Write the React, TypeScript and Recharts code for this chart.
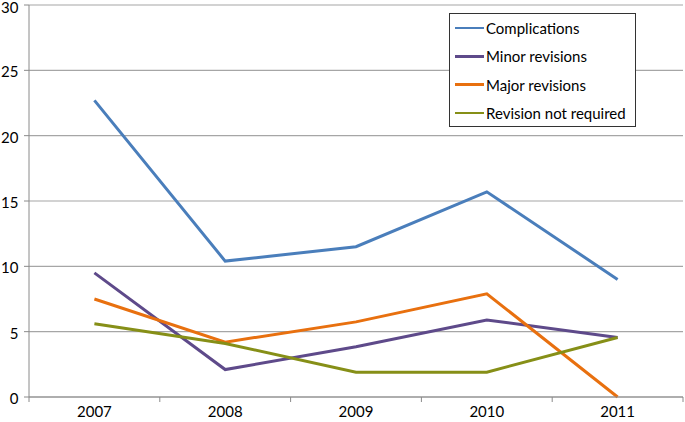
import React from 'react';
import { LineChart, Line, XAxis, YAxis, CartesianGrid } from 'recharts';

const years = ['2007', '2008', '2009', '2010', '2011'];
const complications = [22.7, 10.4, 11.5, 15.7, 9.0];
const minorRevisions = [9.5, 2.1, 3.85, 5.9, 4.55];
const majorRevisions = [7.5, 4.2, 5.75, 7.9, 0];
const revisionNotRequired = [5.6, 4.1, 1.9, 1.9, 4.55];
const yTicks = [0, 5, 10, 15, 20, 25, 30];
const xBoundaries = [0, 1, 2, 3, 4, 5];

const series = [
  { key: 'complications', name: 'Complications', color: '#4a7ebb' },
  { key: 'minor', name: 'Minor revisions', color: '#5e4a8a' },
  { key: 'major', name: 'Major revisions', color: '#e8700f' },
  { key: 'notRequired', name: 'Revision not required', color: '#868f17' },
];

const data = years.map((y, i) => ({
  pos: i + 0.5,
  year: y,
  complications: complications[i],
  minor: minorRevisions[i],
  major: majorRevisions[i],
  notRequired: revisionNotRequired[i],
}));

const FONT = 'Lato, "Open Sans", sans-serif';

const XTick = (props: any) => {
  const { x, y, payload, width } = props;
  const idx = payload.value;
  if (idx >= years.length) return null;
  const half = (typeof width === 'number' && width > 0 ? width : 654) / years.length / 2;
  return (
    <text x={x + half} y={y} dy="0.8em" textAnchor="middle" fill="#000" fontSize={15} fontFamily={FONT}>
      {years[idx]}
    </text>
  );
};

const YTick = (props: any) => {
  const { x, y, payload, index } = props;
  const isTop = index === yTicks.length - 1;
  return (
    <text
      x={x}
      y={y + (isTop ? 1 : 0)}
      dy="0.46em"
      textAnchor="end"
      fill="#000"
      fontSize={15}
      fontFamily={FONT}
    >
      {payload.value}
    </text>
  );
};

const LegendBox = () => (
  <div
    style={{
      position: 'absolute',
      left: 449,
      top: 13,
      width: 187,
      height: 114,
      border: '1px solid #333',
      background: '#fff',
      boxSizing: 'border-box',
      fontFamily: FONT,
      fontSize: 15,
      color: '#000',
    }}
  >
    {series.map((s, i) => (
      <div
        key={s.key}
        style={{ position: 'absolute', left: 5, top: 3 + i * 28.3, height: 22, display: 'flex', alignItems: 'center' }}
      >
        <div style={{ width: 29, height: 2.5, background: s.color, marginRight: 2 }} />
        <span style={{ whiteSpace: 'nowrap' }}>{s.name}</span>
      </div>
    ))}
  </div>
);

export default function App() {
  return (
    <div style={{ position: 'absolute', left: 0, top: 0, width: 685, height: 422, background: '#fff' }}>
      <LineChart width={685} height={422} data={data} margin={{ top: 5, right: 2, bottom: 0, left: 0 }}>
        <CartesianGrid vertical={false} stroke="#a6a6a6" strokeWidth={1.2} />
        <XAxis
          dataKey="pos"
          type="number"
          domain={[0, 5]}
          ticks={xBoundaries}
          interval={0}
          height={25}
          tickSize={5}
          tickMargin={3}
          stroke="#8a8a8a"
          tick={<XTick />}
        />
        <YAxis
          type="number"
          domain={[0, 30]}
          ticks={yTicks}
          interval={0}
          width={29}
          tickSize={5}
          tickMargin={5.5}
          stroke="#8a8a8a"
          tick={<YTick />}
        />
        {series.map((s) => (
          <Line
            key={s.key}
            type="linear"
            dataKey={s.key}
            name={s.name}
            stroke={s.color}
            strokeWidth={3}
            dot={false}
            activeDot={false}
            isAnimationActive={false}
          />
        ))}
      </LineChart>
      <LegendBox />
    </div>
  );
}
